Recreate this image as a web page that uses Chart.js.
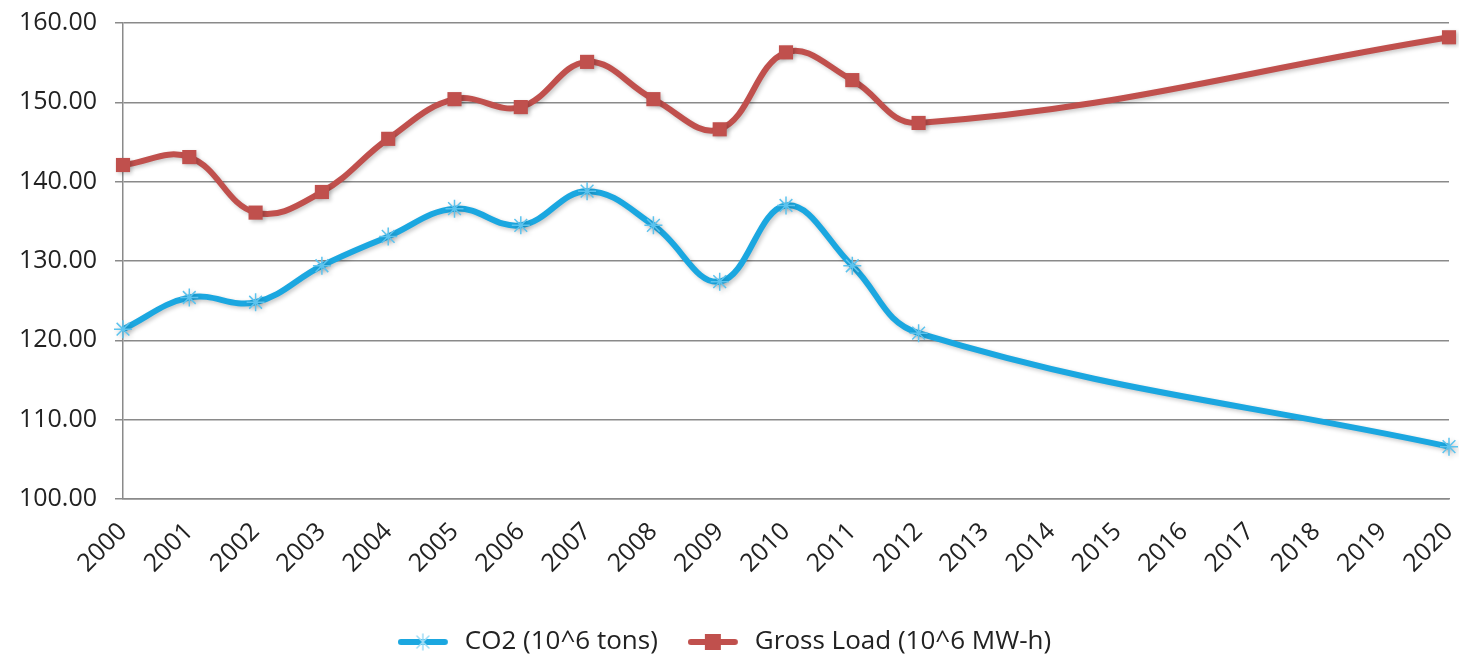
<!DOCTYPE html>
<html>
<head>
<meta charset="utf-8">
<script src="https://cdn.jsdelivr.net/npm/chart.js@4"></script>
<style>
    html, body { margin: 0; padding: 0; background: #fff; }
    #wrap { width: 1459px; height: 665px; }
</style>
</head>
<body>
<div id="wrap"><canvas id="chart"></canvas></div>
<script>
const years = ['2000', '2001', '2002', '2003', '2004', '2005', '2006', '2007', '2008', '2009', '2010',
    '2011', '2012', '2013', '2014', '2015', '2016', '2017', '2018', '2019', '2020'];
const co2 = [121.4, 125.4, 124.8, 129.4, 133.1, 136.6, 134.5, 138.8, 134.5, 127.4, 137.0,
    129.4, 120.9, null, null, null, null, null, null, null, 106.6];
const grossLoad = [142.1, 143.1, 136.1, 138.7, 145.4, 150.4, 149.4, 155.1, 150.4, 146.6, 156.3,
    152.8, 147.4, null, null, null, null, null, null, null, 158.2];
const yTicks = { min: 100, max: 160, step: 10 };

const BLUE = '#1ba7e0';
const RED = '#c0504d';
const GRID = '#8a8a8a';
const FONT = 'Open Sans';

// legend swatch: short thick line with the marker in the middle (right part left empty as a gap)
function swatch(color, style) {
    const c = document.createElement('canvas');
    c.width = 54; c.height = 22;
    const g = c.getContext('2d');
    g.strokeStyle = color;
    g.lineWidth = 6;
    g.lineCap = 'round';
    g.beginPath(); g.moveTo(3, 11); g.lineTo(47, 11); g.stroke();
    if (style === 'rect') {
        g.fillStyle = color;
        g.fillRect(17, 3, 16, 16);
    } else {
        g.strokeStyle = '#9fdcf5';
        g.lineWidth = 1.5;
        g.beginPath();
        g.moveTo(25, 3); g.lineTo(25, 19);
        g.moveTo(19, 5); g.lineTo(31, 17);
        g.moveTo(31, 5); g.lineTo(19, 17);
        g.stroke();
    }
    return c;
}

const shadowPlugin = {
    id: 'lineShadow',
    beforeDatasetsDraw(chart) {
        const ctx = chart.ctx;
        ctx.save();
        ctx.shadowColor = 'rgba(0,0,0,0.22)';
        ctx.shadowBlur = 4;
        ctx.shadowOffsetX = 2;
        ctx.shadowOffsetY = 2;
    },
    afterDatasetsDraw(chart) {
        chart.ctx.restore();
    }
};

new Chart(document.getElementById('chart'), {
    type: 'line',
    data: {
        labels: years,
        datasets: [{
            label: 'CO2 (10^6 tons)',
            data: co2,
            borderColor: BLUE,
            backgroundColor: BLUE,
            borderWidth: 6,
            tension: 0.4,
            spanGaps: true,
            clip: 12,
            pointStyle: 'star',
            pointRadius: 9,
            pointBorderWidth: 1.5,
            pointBorderColor: '#5cc3ee',
            pointBackgroundColor: BLUE
        }, {
            label: 'Gross Load (10^6 MW-h)',
            data: grossLoad,
            borderColor: RED,
            backgroundColor: RED,
            borderWidth: 6,
            tension: 0.4,
            spanGaps: true,
            clip: 12,
            pointStyle: 'rect',
            pointRadius: 10,
            pointBorderWidth: 0,
            pointBackgroundColor: RED
        }]
    },
    options: {
        responsive: true,
        maintainAspectRatio: false,
        animation: false,
        layout: { autoPadding: false, padding: { top: 23, right: 10, left: 0, bottom: 0 } },
        scales: {
            x: {
                offset: false,
                grid: { display: false, drawOnChartArea: false, drawTicks: true, tickLength: 10, tickColor: GRID },
                border: { display: true, color: GRID, width: 1.5 },
                ticks: {
                    autoSkip: false,
                    maxRotation: 45,
                    minRotation: 45,
                    padding: 8,
                    color: '#222',
                    font: { family: FONT, size: 25 }
                },
                afterFit(scale) {
                    scale.height = 100;
                    scale.paddingRight = 0;
                    scale.paddingLeft = 0;
                }
            },
            y: {
                min: yTicks.min,
                max: yTicks.max,
                grid: { color: GRID, lineWidth: 1.5, tickLength: 8, tickColor: GRID },
                border: { display: true, color: GRID, width: 1.5 },
                ticks: {
                    stepSize: yTicks.step,
                    padding: 18,
                    color: '#222',
                    font: { family: FONT, size: 25 },
                    callback: v => v.toFixed(2)
                },
                afterFit(scale) {
                    scale.width = 123;
                    scale.paddingTop = 0;
                    scale.paddingBottom = 0;
                }
            }
        },
        plugins: {
            legend: {
                position: 'bottom',
                labels: {
                    usePointStyle: true,
                    pointStyleWidth: 54,
                    padding: 30,
                    color: '#222',
                    font: { family: FONT, size: 26 },
                    generateLabels(chart) {
                        const items = Chart.defaults.plugins.legend.labels.generateLabels(chart);
                        items.forEach((it, i) => {
                            it.pointStyle = i === 0 ? swatch(BLUE, 'star') : swatch(RED, 'rect');
                        });
                        return items;
                    }
                }
            },
            tooltip: { enabled: false }
        }
    },
    plugins: [shadowPlugin]
});
</script>
</body>
</html>
